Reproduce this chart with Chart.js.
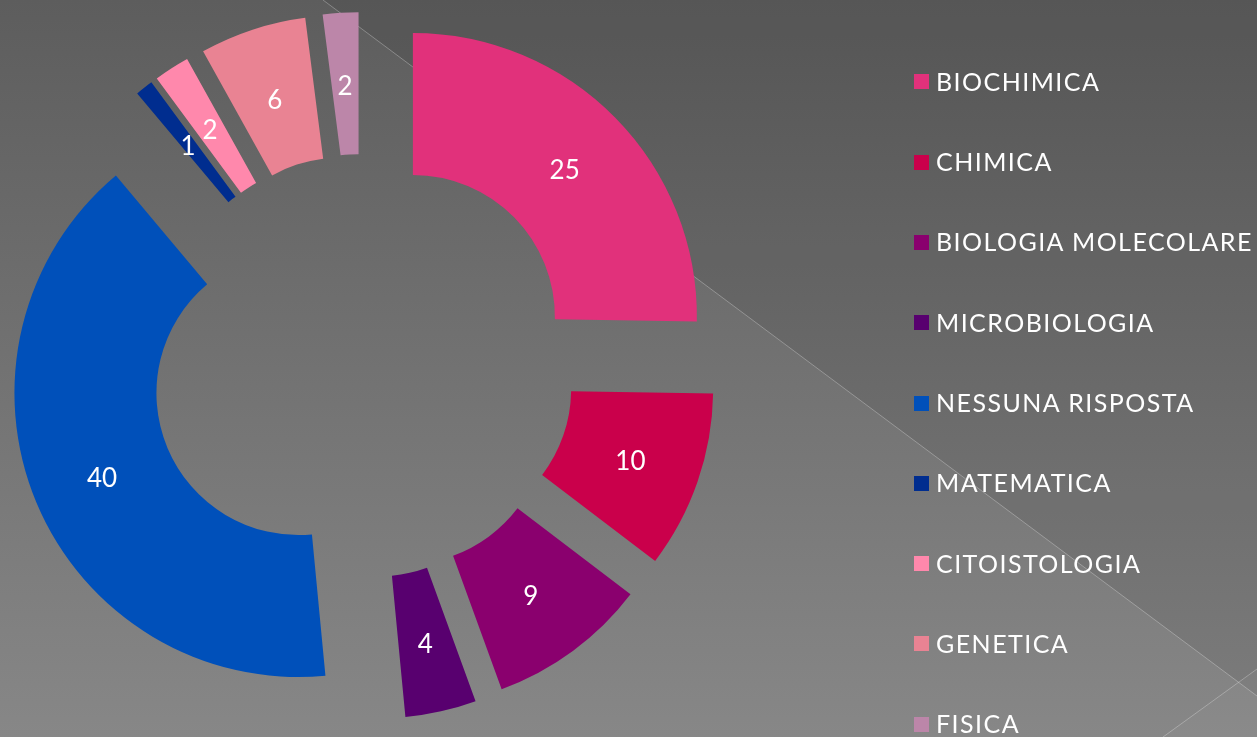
<!DOCTYPE html>
<html>
<head>
<meta charset="utf-8">
<script src="https://cdn.jsdelivr.net/npm/chart.js@4/dist/chart.umd.min.js"></script>
<style>
  html, body { margin: 0; padding: 0; width: 1257px; height: 737px; overflow: hidden; }
  body { position: relative; background: linear-gradient(to bottom, #5d5d5d 0%, #878787 100%); font-family: Lato, "DejaVu Sans", sans-serif; }
  #bg { position: absolute; left: 0; top: 0; }
  #chart { position: absolute; left: 0; top: 0; }
  #legend { position: absolute; left: 0; top: 0; width: 1257px; height: 737px; pointer-events: none; }
  .item { position: absolute; left: 914px; height: 25px; white-space: nowrap; }
  .box { position: absolute; left: 0; width: 15px; height: 15px; }
  .txt { position: absolute; left: 22px; top: 0; color: #ffffff; font-size: 25px; line-height: 25px; letter-spacing: 1.45px; }
</style>
</head>
<body>
<svg id="bg" width="1257" height="737" xmlns="http://www.w3.org/2000/svg">
  <polygon points="323,0 1257,0 1257,696" fill="#000000" fill-opacity="0.075"/>
  <polygon points="1237,684 1257,669 1257,737 1163,737" fill="#ffffff" fill-opacity="0.03"/>
  <line x1="323" y1="0" x2="1257" y2="696" stroke="#ffffff" stroke-opacity="0.28" stroke-width="1"/>
  <line x1="1163" y1="737" x2="1257" y2="669" stroke="#ffffff" stroke-opacity="0.28" stroke-width="1"/>
</svg>
<canvas id="chart" width="1257" height="737"></canvas>
<div id="legend"></div>
<script>
// ---- data ----
const categories = ['BIOCHIMICA', 'CHIMICA', 'BIOLOGIA MOLECOLARE', 'MICROBIOLOGIA', 'NESSUNA RISPOSTA', 'MATEMATICA', 'CITOISTOLOGIA', 'GENETICA', 'FISICA'];
const answers = [25, 10, 9, 4, 40, 1, 2, 6, 2];

// ---- styles ----
const palette = ['#E1317B', '#CA004B', '#8A006E', '#58006F', '#0050BA', '#002D8F', '#FF88AC', '#E98393', '#BC86A9'];
const EXPLODE = 70; // px each slice is pulled straight out of the ring

// Pulls every arc outwards along its mid-angle (pure translation, like an exploded pie)
const explodePlugin = {
  id: 'explodeSlices',
  beforeDatasetsDraw(chart) {
    chart.getDatasetMeta(0).data.forEach(arc => {
      if (arc.__exploded) return;
      const origDraw = arc.draw;
      arc.draw = function (ctx, area) {
        const half = (this.startAngle + this.endAngle) / 2;
        ctx.save();
        ctx.translate(Math.cos(half) * EXPLODE, Math.sin(half) * EXPLODE);
        origDraw.call(this, ctx, area);
        ctx.restore();
      };
      arc.__exploded = true;
    });
  }
};

const sliceLabels = {
  id: 'sliceLabels',
  afterDatasetsDraw(chart) {
    const ctx = chart.ctx;
    const meta = chart.getDatasetMeta(0);
    const data = chart.data.datasets[0].data;
    ctx.save();
    ctx.fillStyle = '#ffffff';
    ctx.font = '26px Lato, "DejaVu Sans", sans-serif';
    ctx.textAlign = 'center';
    ctx.textBaseline = 'middle';
    meta.data.forEach((arc, i) => {
      const p = arc.getProps(['x', 'y', 'startAngle', 'endAngle', 'innerRadius', 'outerRadius'], true);
      const mid = (p.startAngle + p.endAngle) / 2;
      const rr = EXPLODE + (p.innerRadius + p.outerRadius) / 2;
      ctx.fillText(String(data[i]), p.x + Math.cos(mid) * rr, p.y + Math.sin(mid) * rr + 3);
    });
    ctx.restore();
  }
};

const chart = new Chart(document.getElementById('chart'), {
  type: 'doughnut',
  data: {
    labels: categories,
    datasets: [{
      data: answers,
      backgroundColor: palette,
      borderWidth: 0,
      offset: 0
    }]
  },
  options: {
    responsive: false,
    animation: false,
    devicePixelRatio: 1,
    events: [],
    radius: 284,
    cutout: '50%',
    layout: { padding: { left: 0, top: 0, right: 531, bottom: 5 } },
    plugins: {
      legend: { display: false },
      tooltip: { enabled: false }
    }
  },
  plugins: [explodePlugin, sliceLabels]
});

// ---- HTML legend built from the chart's own legend items ----
const items = Chart.overrides.doughnut.plugins.legend.labels.generateLabels(chart);
const legendEl = document.getElementById('legend');
items.forEach((it, i) => {
  const row = document.createElement('div');
  row.className = 'item';
  row.style.top = (68.8 + 80.3 * i) + 'px';
  const box = document.createElement('div');
  box.className = 'box';
  box.style.top = '5.5px';
  box.style.background = it.fillStyle;
  const txt = document.createElement('span');
  txt.className = 'txt';
  txt.textContent = it.text;
  row.appendChild(box);
  row.appendChild(txt);
  legendEl.appendChild(row);
});
</script>
</body>
</html>
